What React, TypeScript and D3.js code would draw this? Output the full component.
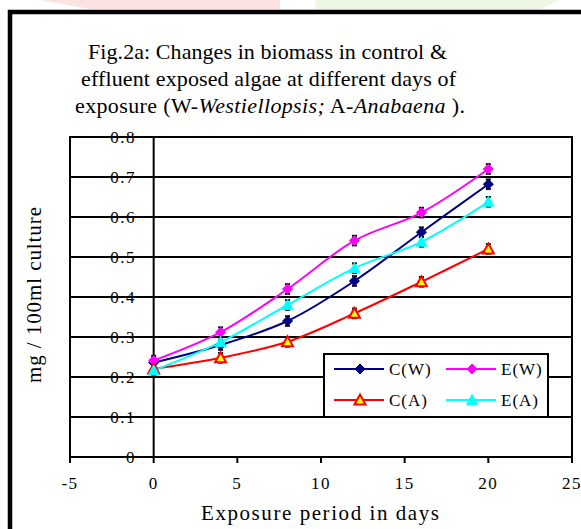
import React from "react";
import * as d3 from "d3";

const days = [0, 4, 8, 12, 16, 20];
const seriesNames = ["C(W)", "E(W)", "C(A)", "E(A)"];
const cW = [0.236, 0.28, 0.34, 0.44, 0.562, 0.682];
const eW = [0.241, 0.312, 0.42, 0.541, 0.611, 0.72];
const cA = [0.22, 0.248, 0.288, 0.359, 0.438, 0.52];
const eA = [0.216, 0.287, 0.38, 0.472, 0.538, 0.638];
const errBar = 0.012;
const xTicks = [-5, 0, 5, 10, 15, 20, 25];
const yTicks = [0, 0.1, 0.2, 0.3, 0.4, 0.5, 0.6, 0.7, 0.8];
const titleLines = [
  "Fig.2a: Changes in biomass in control &",
  "effluent exposed algae at different days of",
];

const W = 581;
const H = 529;
const x = d3.scaleLinear().domain([-5, 25]).range([70, 572]);
const y = d3.scaleLinear().domain([0, 0.8]).range([457, 137]);

type Marker = "diamond" | "triangle" | "triangleY";
const series: { name: string; values: number[]; color: string; marker: Marker }[] = [
  { name: seriesNames[0], values: cW, color: "#000080", marker: "diamond" },
  { name: seriesNames[1], values: eW, color: "#ff00ff", marker: "diamond" },
  { name: seriesNames[2], values: cA, color: "#ff0000", marker: "triangleY" },
  { name: seriesNames[3], values: eA, color: "#00ffff", marker: "triangle" },
];

function MarkerShape({ cx, cy, color, marker }: { cx: number; cy: number; color: string; marker: Marker }) {
  if (marker === "diamond") {
    const s = 5;
    return <path d={`M${cx},${cy - s}L${cx + s},${cy}L${cx},${cy + s}L${cx - s},${cy}Z`} fill={color} stroke={color} strokeWidth={1} />;
  }
  const s = 5.5;
  const d = `M${cx},${cy - s}L${cx + s},${cy + s * 0.8}L${cx - s},${cy + s * 0.8}Z`;
  if (marker === "triangleY") {
    return <path d={d} fill="#ffff00" stroke={color} strokeWidth={2} />;
  }
  return <path d={d} fill={color} stroke={color} strokeWidth={1} />;
}

export default function App() {
  const line = d3
    .line<number>()
    .x((_, i) => x(days[i]))
    .y((v) => y(v))
    .curve(d3.curveCatmullRom.alpha(0.5));
  const serif = "'Liberation Serif', 'Times New Roman', serif";
  const legendItems = [
    { s: series[0], lx: 334, ly: 369 },
    { s: series[1], lx: 446, ly: 369 },
    { s: series[2], lx: 334, ly: 400 },
    { s: series[3], lx: 446, ly: 400 },
  ];
  return (
    <svg width={W} height={H} style={{ position: "absolute", left: 0, top: 0 }} fontFamily={serif}>
      <rect x={0} y={0} width={W} height={H} fill="#fff" />
      {/* faint watermark at top */}
      <path d="M40,0L280,0L280,9L90,9Z" fill="#fde2e2" />
      <path d="M315,0L560,0L540,9L315,9Z" fill="#eef7e4" />
      {/* outer frame */}
      <rect x={10} y={12} width={W + 20} height={H + 20} fill="#fff" stroke="#000" strokeWidth={4.5} />
      {/* title */}
      <g fontSize={22} fill="#000">
        <text x={88} y={59} textLength={359} lengthAdjust="spacing">{titleLines[0]}</text>
        <text x={81} y={86} textLength={375} lengthAdjust="spacing">{titleLines[1]}</text>
        <text x={75} y={113} textLength={390} lengthAdjust="spacing">
          exposure (W-<tspan fontStyle="italic">Westiellopsis;</tspan>{"  "}A-<tspan fontStyle="italic">Anabaena</tspan> ).
        </text>
      </g>
      {/* gridlines */}
      {yTicks.map((t) => (
        <line key={"g" + t} x1={x(-5)} x2={x(25)} y1={y(t)} y2={y(t)} stroke="#000" strokeWidth={2} />
      ))}
      {/* plot border */}
      <rect x={x(-5)} y={y(0.8)} width={x(25) - x(-5)} height={y(0) - y(0.8)} fill="none" stroke="#000" strokeWidth={2} />
      {/* y axis at x=0 */}
      <line x1={x(0)} x2={x(0)} y1={y(0)} y2={y(0.8)} stroke="#000" strokeWidth={2} />
      {yTicks.map((t) => (
        <g key={"yt" + t}>
          <line x1={x(0) - 6} x2={x(0)} y1={y(t)} y2={y(t)} stroke="#000" strokeWidth={2} />
          <text x={136} y={y(t)} dy="0.33em" textAnchor="end" fontSize={17} letterSpacing={1.5}>
            {d3.format(".1~f")(t)}
          </text>
        </g>
      ))}
      {/* x ticks */}
      {xTicks.map((t) => (
        <g key={"xt" + t}>
          <line x1={x(t)} x2={x(t)} y1={y(0)} y2={y(0) + 6} stroke="#000" strokeWidth={2} />
          <text x={x(t)} y={y(0) + 32} textAnchor="middle" fontSize={17} letterSpacing={1.5}>
            {t}
          </text>
        </g>
      ))}
      <text x={201} y={520} fontSize={21} textLength={238} lengthAdjust="spacing">
        Exposure period in days
      </text>
      <text transform="translate(41,383) rotate(-90)" fontSize={21} textLength={176} lengthAdjust="spacing">
        mg / 100ml culture
      </text>
      {/* series lines */}
      {series.map((s) => (
        <path key={"l" + s.name} d={line(s.values) || ""} fill="none" stroke={s.color} strokeWidth={2} />
      ))}
      {/* error bars */}
      {series.map((s) =>
        s.values.map((v, i) => (
          <g key={"e" + s.name + i} stroke="#000">
            <line x1={x(days[i])} x2={x(days[i])} y1={y(v - errBar)} y2={y(v + errBar)} strokeWidth={2.5} />
            <line x1={x(days[i]) - 2.5} x2={x(days[i]) + 2.5} y1={y(v - errBar)} y2={y(v - errBar)} strokeWidth={2} />
            <line x1={x(days[i]) - 2.5} x2={x(days[i]) + 2.5} y1={y(v + errBar)} y2={y(v + errBar)} strokeWidth={2} />
          </g>
        ))
      )}
      {/* markers */}
      {series.map((s) =>
        s.values.map((v, i) => (
          <MarkerShape key={"m" + s.name + i} cx={x(days[i])} cy={y(v)} color={s.color} marker={s.marker} />
        ))
      )}
      {/* legend */}
      <rect x={324} y={354} width={224} height={63} fill="#fff" stroke="#000" strokeWidth={2} />
      {legendItems.map(({ s, lx, ly }) => (
        <g key={"lg" + s.name}>
          <line x1={lx} x2={lx + 50} y1={ly} y2={ly} stroke={s.color} strokeWidth={2} />
          <MarkerShape cx={lx + 26} cy={ly} color={s.color} marker={s.marker} />
          <text x={lx + 55} y={ly} dy="0.33em" fontSize={17} letterSpacing={1}>
            {s.name}
          </text>
        </g>
      ))}
    </svg>
  );
}
